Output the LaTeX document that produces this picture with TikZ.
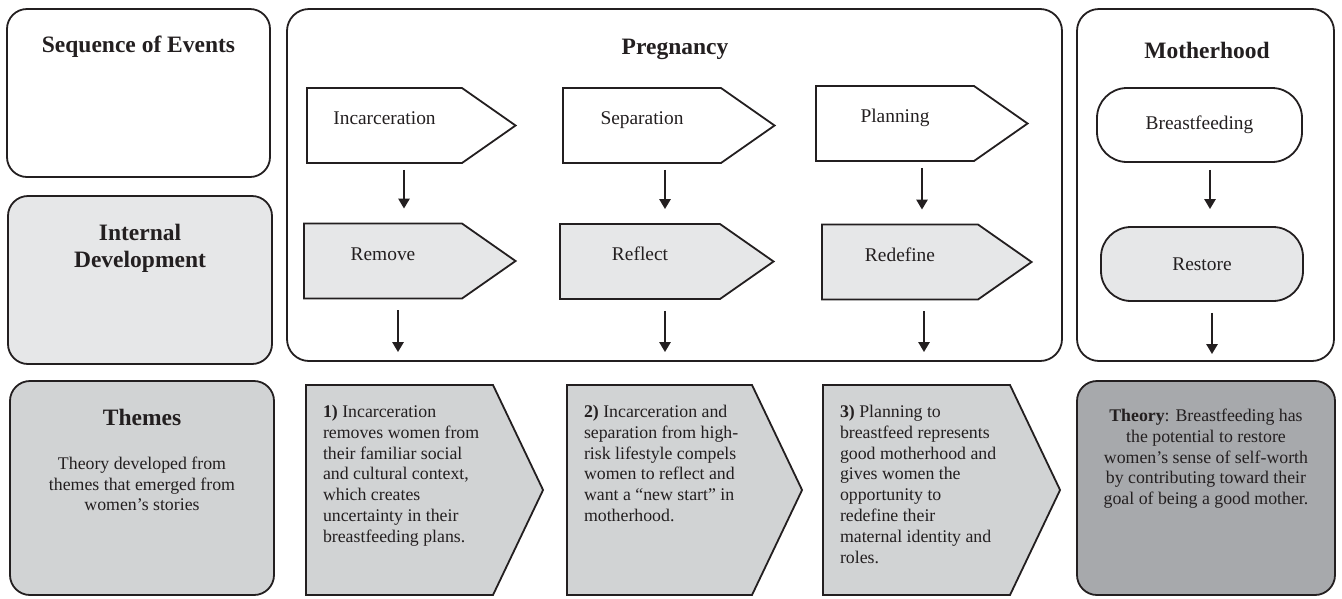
\documentclass[tikz,border=0pt]{standalone}
\usepackage{fontspec}
\setmainfont{Liberation Serif}
\usetikzlibrary{arrows.meta,shapes.symbols}

\definecolor{ln}{HTML}{231F20}
\definecolor{lite}{HTML}{E6E7E8}
\definecolor{mid}{HTML}{D1D3D4}
\definecolor{drk}{HTML}{A7A9AC}

\begin{document}
\begin{tikzpicture}[x=1pt, y=-1pt,
    every node/.style={font=\fontsize{17.8}{20.8}\selectfont, text=ln},
    lab/.style={font=\fontsize{19.4}{22}\selectfont},
    box/.style={draw=ln, line width=1.8pt, rounded corners=20pt, inner sep=0pt},
    ttl/.style={font=\fontsize{23.5}{27}\selectfont\bfseries, align=center},
    pent/.style={lab, signal, signal to=east, signal pointer angle=70, draw=ln,
                 line width=1.8pt, inner sep=0pt, align=center,
                 minimum height=75pt, text height=13.5pt, text depth=15pt},
    thm/.style={signal, signal to=east, signal pointer angle=129, draw=ln,
                line width=1.8pt, fill=mid, inner xsep=17pt, inner ysep=18pt},
    pill/.style={lab, draw=ln, line width=1.8pt, rounded corners=30pt,
                 minimum height=74pt, inner sep=0pt},
    e/.style={-{Triangle[length=10pt, width=11pt]}, line width=2.6pt, draw=ln},
  ]
  \useasboundingbox (0,0) rectangle (1342,598);

  \node[box, minimum width=263pt, minimum height=168pt] (seq) at (138.5,93) {};
  \node[box, fill=lite, minimum width=264pt, minimum height=168pt] (intd) at (140,280) {};
  \node[box, fill=mid, minimum width=264pt, minimum height=214pt] (thb) at (142,488) {};
  \node[box, rounded corners=22pt, minimum width=775pt, minimum height=352pt] (preg) at (674.5,185) {};
  \node[box, rounded corners=22pt, minimum width=257pt, minimum height=352pt] (moth) at (1205.5,185) {};

  \node[ttl] (seqT) at (138.5,47) {Sequence of Events};
  \node[ttl] (intdT) at (140,248) {Internal\\Development};
  \node[ttl] (thbT) at (142,417) {Themes};
  \node[align=center] (thbD) at (142,484) {Theory developed from\\themes that emerged from\\women’s stories};
  \node[ttl] (pregT) at (675,49) {Pregnancy};
  \node[ttl] (mothT) at (1207,50) {Motherhood};

  \node[pent, text width=155pt] (inc) at (384.5,125.5) {Incarceration};
  \node[pent, text width=158pt] (sep) at (642,125.5) {Separation};
  \node[pent, text width=158pt] (pla) at (895,123.5) {Planning};
  \node[pent, fill=lite, text width=158pt] (rem) at (383,261) {Remove};
  \node[pent, fill=lite, text width=160pt] (ref) at (640,261.5) {Reflect};
  \node[pent, fill=lite, text width=156pt] (red) at (900,262) {Redefine};

  \node[pill, minimum width=205pt] (brf) at (1199.5,125) {Breastfeeding};
  \node[pill, fill=lite, minimum width=202pt] (rst) at (1202,264) {Restore};

  \node[thm] (th1) at (399.5,490) {\parbox[c][174pt][t]{153pt}{\begin{tabular}[t]{@{}l@{}}
    \textbf{1)} Incarceration\\removes women from\\their familiar social\\and cultural context,\\which creates\\uncertainty in their\\breastfeeding plans.\end{tabular}}};
  \node[thm] (th2) at (659.5,490) {\parbox[c][174pt][t]{151pt}{\begin{tabular}[t]{@{}l@{}}
    \textbf{2)} Incarceration and\\separation from high-\\risk lifestyle compels\\women to reflect and\\want a “new start” in\\motherhood.\end{tabular}}};
  \node[thm] (th3) at (916.5,490) {\parbox[c][174pt][t]{153pt}{\begin{tabular}[t]{@{}l@{}}
    \textbf{3)} Planning to\\breastfeed represents\\good motherhood and\\gives women the\\opportunity to\\redefine their\\maternal identity and\\roles.\end{tabular}}};
  \node[box, fill=drk, inner xsep=16pt, inner ysep=28pt] (thy) at (1206,488) {\parbox[c][158pt][t]{226pt}{\centering
    \textbf{Theory}: Breastfeeding has\\the potential to restore\\women’s sense of self-worth\\by contributing toward their\\goal of being a good mother.}};

  \draw[e, shorten <=6pt, shorten >=14pt] ([xshift=19.5pt]inc.south) -- ([xshift=21pt]rem.north);
  \draw[e, shorten <=6pt, shorten >=14pt] ([xshift=23pt]sep.south) -- ([xshift=25pt]ref.north);
  \draw[e, shorten <=6pt, shorten >=14pt] ([xshift=27pt]pla.south) -- ([xshift=22pt]red.north);
  \draw[e, shorten <=7pt, shorten >=17pt] ([xshift=10.5pt]brf.south) -- ([xshift=8pt]rst.north);
  \draw[e, shorten <=11pt, shorten >=32pt] ([xshift=15pt]rem.south) -- ([xshift=-1.5pt]th1.north);
  \draw[e, shorten <=11pt, shorten >=32pt] ([xshift=25pt]ref.south) -- ([xshift=5.5pt]th2.north);
  \draw[e, shorten <=11pt, shorten >=32pt] ([xshift=24pt]red.south) -- ([xshift=7.5pt]th3.north);
  \draw[e, shorten <=11pt, shorten >=26pt] ([xshift=10pt]rst.south) -- ([xshift=6pt]thy.north);
\end{tikzpicture}
\end{document}
